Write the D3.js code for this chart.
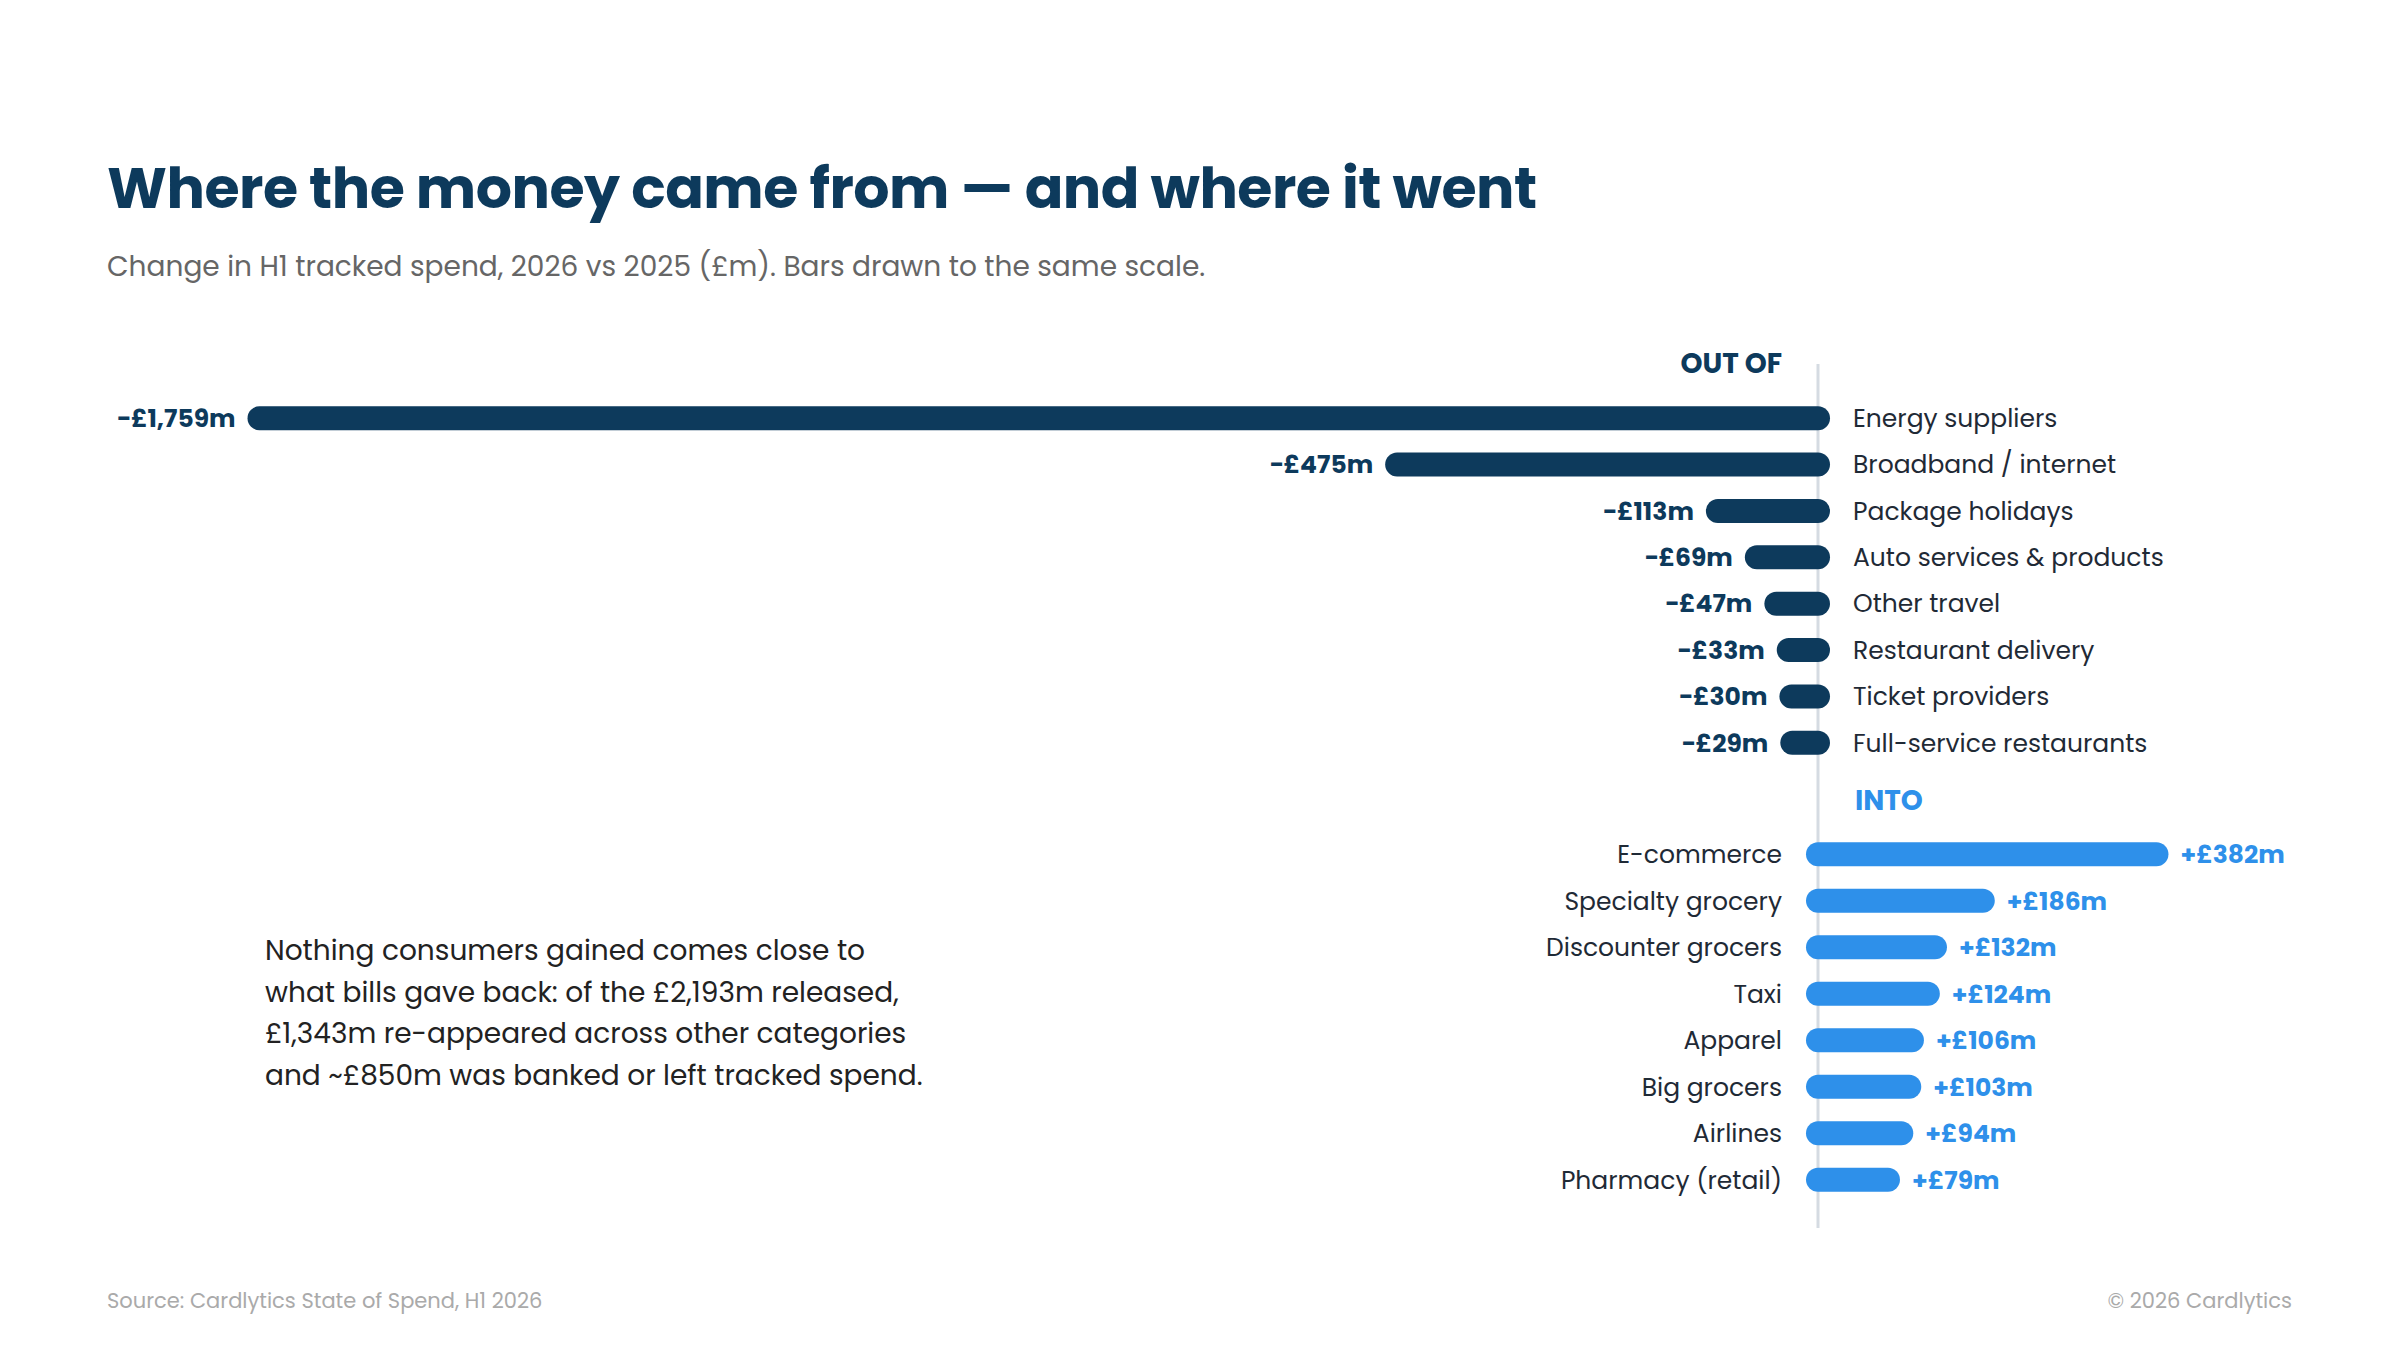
<!DOCTYPE html>
<html><head><meta charset="utf-8">
<script src="https://cdn.jsdelivr.net/npm/d3@7"></script>
<style>body{margin:0;background:#fff}svg{font-family:Poppins,Inter,"Noto Sans",sans-serif}</style>
</head><body><svg id="c" width="2400" height="1350"></svg>
<script>
const outCats=["Energy suppliers","Broadband / internet","Package holidays","Auto services & products","Other travel","Restaurant delivery","Ticket providers","Full-service restaurants"];
const outVals=[-1759,-475,-113,-69,-47,-33,-30,-29];
const inCats=["E-commerce","Specialty grocery","Discounter grocers","Taxi","Apparel","Big grocers","Airlines","Pharmacy (retail)"];
const inVals=[382,186,132,124,106,103,94,79];
const noteLines=["Nothing consumers gained comes close to","what bills gave back: of the £2,193m released,","£1,343m re-appeared across other categories","and ~£850m was banked or left tracked spend."];

const svg=d3.select("#c");
const navy="#0d3a5c", blue="#2e90ea";
const zero=1818;
const x=d3.scaleLinear().domain([0,1]).range([zero,zero+0.886]);
const yOut=d3.scaleBand().domain(outCats).range([395,766]).paddingInner(0);
const yIn=d3.scaleBand().domain(inCats).range([831,1203]).paddingInner(0);
const fmt=v=>(v<0?"\u2212£":"+£")+d3.format(",")(Math.abs(v))+"m";

svg.append("text").attr("x",107).attr("y",208).attr("fill",navy).attr("font-size",57).attr("font-weight",700).attr("letter-spacing",-0.5).text("Where the money came from — and where it went");
svg.append("text").attr("x",107).attr("y",276).attr("fill","#666").attr("font-size",28).text("Change in H1 tracked spend, 2026 vs 2025 (£m). Bars drawn to the same scale.");

svg.append("line").attr("x1",zero).attr("x2",zero).attr("y1",364).attr("y2",1228).attr("stroke","#d5dbe2").attr("stroke-width",3);

svg.append("text").attr("x",1782).attr("y",373).attr("text-anchor","end").attr("fill",navy).attr("font-size",28).attr("font-weight",700).text("OUT OF");
svg.append("text").attr("x",1855).attr("y",810).attr("fill",blue).attr("font-size",28).attr("font-weight",700).text("INTO");

function group(cats,vals,y,col,neg){
  const g=svg.append("g");
  cats.forEach((c,i)=>{
    const v=vals[i], cy=y(c)+y.bandwidth()/2;
    g.append("line").attr("x1",x(0)).attr("x2",x(v)).attr("y1",cy).attr("y2",cy).attr("stroke",col).attr("stroke-width",24).attr("stroke-linecap","round");
    g.append("text").attr("x",neg?x(v)-24:x(v)+24).attr("y",cy).attr("dy","0.35em").attr("text-anchor",neg?"end":"start").attr("fill",col).attr("font-size",25).attr("font-weight",700).text(fmt(v));
    g.append("text").attr("x",neg?1853:1782).attr("y",cy).attr("dy","0.35em").attr("text-anchor",neg?"start":"end").attr("fill","#1f2a36").attr("font-size",25).text(c);
  });
}
group(outCats,outVals,yOut,navy,true);
group(inCats,inVals,yIn,blue,false);

svg.append("g").selectAll("text").data(noteLines).join("text").attr("x",265).attr("y",(d,i)=>960+i*41.5).attr("fill","#222").attr("font-size",28).text(d=>d);

svg.append("text").attr("x",107).attr("y",1308).attr("fill","#aaa").attr("font-size",21).text("Source: Cardlytics State of Spend, H1 2026");
svg.append("text").attr("x",2292).attr("y",1308).attr("text-anchor","end").attr("fill","#aaa").attr("font-size",21).text("© 2026 Cardlytics");
</script></body></html>
